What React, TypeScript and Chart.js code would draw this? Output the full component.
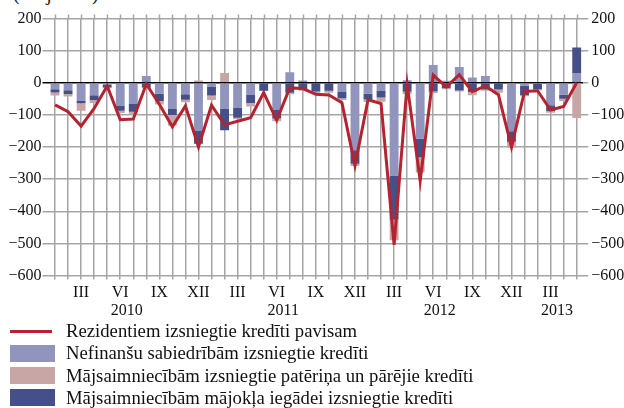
import React, { useEffect, useRef } from "react";
import { Chart, registerables } from "chart.js";

Chart.register(...registerables);

const monthNames = ["I", "II", "III", "IV", "V", "VI", "VII", "VIII", "IX", "X", "XI", "XII"];
const years = ["2010", "2011", "2012", "2013"];
const monthCount = 41; // Jan 2010 .. May 2013
const categories = years.flatMap((y) => monthNames.map((m) => `${m} ${y}`)).slice(0, monthCount);
const shownMonthTicks = ["III", "VI", "IX", "XII"];

const totalLoans = [
  -69, -90, -135, -80, -10, -115, -113, -4, -67, -137, -72, -200,
  -70, -131, -120, -109, -31, -117, -16, -18, -36, -38, -62, -258,
  -53, -65, -505, -5, -305, 24, -13, 25, -28, -10, -37, -200,
  -27, -25, -85, -74, 0,
];
const nonFinancialLoans = [
  -20, -23, -57, -39, -7, -71, -66, 21, -34, -82, -36, -150,
  -12, -80, -77, -38, -2, -83, 33, 7, 0, 0, -27, -210,
  -34, -24, -289, 8, -174, 55, 6, 49, 16, 21, 0, -151,
  -9, -3, -70, -37, 30,
];
const housePurchaseLoans = [
  -10, -12, -7, -15, -8, -16, -24, -15, -23, -18, -17, -40,
  -28, -68, -32, -25, -23, -28, -31, -22, -27, -25, -21, -42,
  -18, -22, -137, -28, -58, -27, -17, -24, -29, -21, -21, -33,
  -30, -17, -18, -13, 80,
];
const consumerLoans = [
  -10, -8, -23, -9, -2, -7, -10, -2, -11, -34, -8, 7,
  -14, 30, -5, -11, -1, -9, -5, -3, -4, -6, -6, -7,
  -8, -13, -64, -8, -47, -6, -3, -3, -10, -4, -10, -18,
  -3, -4, -5, -7, -110,
];

const seriesNames = [
  "Rezidentiem izsniegtie kredīti pavisam",
  "Nefinanšu sabiedrībām izsniegtie kredīti",
  "Mājsaimniecībām izsniegtie patēriņa un pārējie kredīti",
  "Mājsaimniecībām mājokļa iegādei izsniegtie kredīti",
];
const seriesColors = ["#b32430", "#9195bd", "#c9a6a6", "#454f88"];

const FONT = "'Liberation Serif', 'Times New Roman', serif";
const GRID = "#a5a5a5";

const W = 624;
const H = 322;

const fmt = (v: number) => (v < 0 ? "\u2212" + Math.abs(v) : String(v));

const extrasPlugin = {
  id: "extras",
  beforeDatasetsDraw(chart: any) {
    const { ctx, chartArea, scales } = chart;
    const x = scales.x;
    ctx.save();
    ctx.strokeStyle = GRID;
    ctx.lineWidth = 1.5;
    for (let i = 0; i < categories.length; i++) {
      const px = Math.round(x.getPixelForValue(i)) + 0.5;
      ctx.beginPath();
      ctx.moveTo(px, chartArea.top - 4);
      ctx.lineTo(px, chartArea.top);
      ctx.stroke();
    }
    ctx.restore();
  },
  afterDraw(chart: any) {
    const { ctx, scales } = chart;
    const x = scales.x;
    ctx.save();
    ctx.font = `16px ${FONT}`;
    ctx.fillStyle = "#111";
    ctx.textAlign = "center";
    ctx.textBaseline = "middle";
    years.forEach((y) => {
      const idx = categories.map((c, i) => (c.endsWith(y) ? i : -1)).filter((i) => i >= 0);
      if (!idx.length) return;
      const first = idx[0];
      const last = idx[idx.length - 1];
      const partial = idx.length < 12;
      const a = x.getPixelForValue(first);
      const b = x.getPixelForValue(partial ? last + 1 : last);
      ctx.fillText(y, (a + b) / 2, 310.5);
    });
    ctx.restore();
  },
};

export default function App() {
  const ref = useRef<HTMLCanvasElement | null>(null);

  useEffect(() => {
    document.body.style.margin = "0";
    const canvas = ref.current!;
    const chart = new Chart(canvas, {
      type: "bar",
      data: {
        labels: categories,
        datasets: [
          {
            type: "line",
            label: seriesNames[0],
            data: totalLoans,
            borderColor: seriesColors[0],
            backgroundColor: seriesColors[0],
            borderWidth: 3,
            pointRadius: 0,
            tension: 0,
            order: 0,
            stack: "total",
          } as any,
          {
            label: seriesNames[1],
            data: nonFinancialLoans,
            backgroundColor: seriesColors[1],
            borderWidth: 0,
            order: 1,
            stack: "parts",
            barPercentage: 0.68,
            categoryPercentage: 1,
          },
          {
            label: seriesNames[3],
            data: housePurchaseLoans,
            backgroundColor: seriesColors[3],
            borderWidth: 0,
            order: 1,
            stack: "parts",
            barPercentage: 0.68,
            categoryPercentage: 1,
          },
          {
            label: seriesNames[2],
            data: consumerLoans,
            backgroundColor: seriesColors[2],
            borderWidth: 0,
            order: 1,
            stack: "parts",
            barPercentage: 0.68,
            categoryPercentage: 1,
          },
        ],
      },
      options: {
        responsive: false,
        animation: false,
        layout: { padding: { top: 18.5, left: 0, right: 0, bottom: 0 } },
        plugins: {
          legend: { display: false },
          tooltip: { enabled: false },
        },
        scales: {
          x: {
            stacked: true,
            offset: true,
            border: { display: false },
            grid: {
              offset: false,
              color: GRID,
              lineWidth: 1.5,
              tickLength: 4,
            },
            ticks: {
              autoSkip: false,
              maxRotation: 0,
              minRotation: 0,
              padding: 4,
              color: "#111",
              font: { family: FONT, size: 16 },
              callback: (_v: any, i: number) => {
                const m = categories[i].split(" ")[0];
                return shownMonthTicks.includes(m) ? m : "";
              },
            },
            afterFit: (s: any) => {
              s.height = H - 275.5;
            },
          },
          y: {
            stacked: true,
            position: "left",
            min: -600,
            max: 200,
            border: { display: false },
            grid: {
              color: (c: any) => (c.tick && c.tick.value === 0 ? "#000" : GRID),
              lineWidth: 1.5,
              tickLength: 6,
            },
            ticks: {
              stepSize: 100,
              padding: 1,
              color: "#111",
              font: { family: FONT, size: 16 },
              callback: (v: any) => fmt(Number(v)),
            },
            afterFit: (s: any) => {
              s.width = 48.5;
            },
          },
          y2: {
            position: "right",
            min: -600,
            max: 200,
            border: { display: false },
            grid: {
              drawOnChartArea: false,
              color: GRID,
              lineWidth: 1.5,
              tickLength: 5,
            },
            ticks: {
              stepSize: 100,
              padding: 3,
              color: "#111",
              font: { family: FONT, size: 16 },
              callback: (v: any) => fmt(Number(v)),
            },
            afterFit: (s: any) => {
              s.width = W - 583.2;
            },
          },
        },
      },
      plugins: [extrasPlugin],
    });
    return () => chart.destroy();
  }, []);

  const legendRows = [
    { name: seriesNames[0], color: seriesColors[0], line: true },
    { name: seriesNames[1], color: seriesColors[1], line: false },
    { name: seriesNames[2], color: seriesColors[2], line: false },
    { name: seriesNames[3], color: seriesColors[3], line: false },
  ];

  return (
    <div style={{ position: "relative", width: W, height: 408, overflow: "hidden", fontFamily: FONT, color: "#111" }}>
      <div style={{ position: "absolute", left: 13, top: -18, fontSize: 20, lineHeight: "23px", whiteSpace: "nowrap" }}>
        (milj. latu)
      </div>
      <canvas ref={ref} width={W} height={H} style={{ position: "absolute", left: 0, top: 0, width: W, height: H }} />
      {legendRows.map((r, i) => (
        <div
          key={r.name}
          style={{
            position: "absolute",
            left: 10,
            top: 320 + i * 22.3,
            height: 22,
            display: "flex",
            alignItems: "center",
            fontSize: 18.7,
            whiteSpace: "nowrap",
          }}
        >
          <div style={{ width: 56, display: "flex", alignItems: "center" }}>
            {r.line ? (
              <div style={{ width: 42, height: 3, background: r.color }} />
            ) : (
              <div style={{ width: 45, height: 17, background: r.color }} />
            )}
          </div>
          <span>{r.name}</span>
        </div>
      ))}
    </div>
  );
}
